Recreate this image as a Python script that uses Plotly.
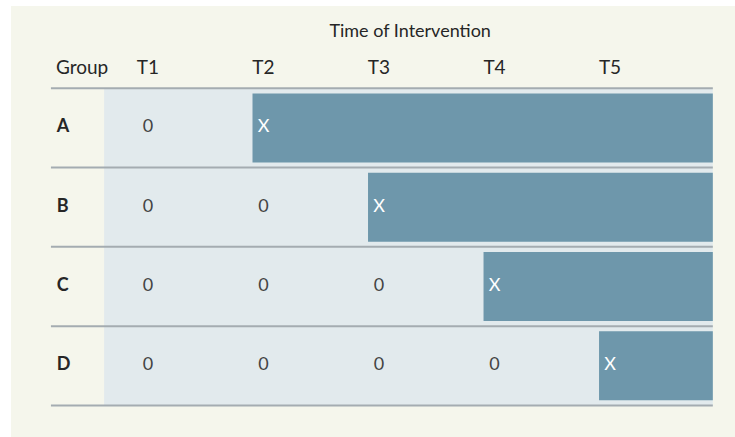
import plotly.graph_objects as go

groups = ["A", "B", "C", "D"]
times = ["T1", "T2", "T3", "T4", "T5"]
# index (1-based) of the time point at which each group receives the intervention
intervention_at = [2, 3, 4, 5]
title_text = "Time of Intervention"
group_header = "Group"

FONT = "Lato"
CREAM = "#f5f6ec"
LIGHT = "#e2eaed"
BAR = "#6e97ab"
LINE = "#a4acb1"
TXT = "#262626"

n_t = len(times)
x_left, x_right = 0.62, n_t + 0.89
bar_pad = 0.095

fig = go.Figure()

# intervention bars (from intervention time through the end of follow-up)
fig.add_trace(go.Bar(
    orientation="h",
    y=list(range(len(groups))),
    base=[t - bar_pad for t in intervention_at],
    x=[x_right - (t - bar_pad) for t in intervention_at],
    width=0.87,
    marker=dict(color=BAR, line=dict(width=0)),
    hoverinfo="skip",
    showlegend=False,
))

# cell texts: "0" before intervention, "X" at intervention
zx, zy, xx, xy = [], [], [], []
for gi, t0 in enumerate(intervention_at):
    for ti in range(1, t0):
        zx.append(ti); zy.append(gi)
    xx.append(t0); xy.append(gi)

fig.add_trace(go.Scatter(x=zx, y=zy, mode="text", text=["0"] * len(zx),
                         textfont=dict(family=FONT, size=18, color="#444444"),
                         hoverinfo="skip", showlegend=False))
fig.add_trace(go.Scatter(x=xx, y=xy, mode="text", text=["X"] * len(xx),
                         textfont=dict(family=FONT, size=18, color="white"),
                         hoverinfo="skip", showlegend=False))

# row labels
fig.add_trace(go.Scatter(x=[0.21] * len(groups), y=list(range(len(groups))), mode="text",
                         text=["<b>%s</b>" % g for g in groups], textposition="middle right",
                         textfont=dict(family=FONT, size=18, color=TXT),
                         hoverinfo="skip", showlegend=False))

# column headers
fig.add_trace(go.Scatter(x=list(range(1, n_t + 1)), y=[-0.74] * n_t, mode="text",
                         text=times, textfont=dict(family=FONT, size=19, color=TXT),
                         hoverinfo="skip", showlegend=False))
fig.add_trace(go.Scatter(x=[0.43], y=[-0.74], mode="text", text=[group_header],
                         textfont=dict(family=FONT, size=19, color=TXT),
                         hoverinfo="skip", showlegend=False))
fig.add_trace(go.Scatter(x=[3.27], y=[-1.21], mode="text", text=[title_text],
                         textfont=dict(family=FONT, size=18, color=TXT),
                         hoverinfo="skip", showlegend=False))

shapes = [
    # white frame strips at top and left of the cream panel
    dict(type="rect", xref="paper", yref="paper", x0=0, x1=11 / 735, y0=0, y1=1,
         fillcolor="white", line=dict(width=0), layer="below"),
    dict(type="rect", xref="paper", yref="paper", x0=0, x1=1, y0=1 - 6 / 437, y1=1,
         fillcolor="white", line=dict(width=0), layer="below"),
    dict(type="rect", xref="x", yref="y", x0=x_left, x1=x_right, y0=-0.5, y1=len(groups) - 0.5,
         fillcolor=LIGHT, line=dict(width=0), layer="below"),
]
for k in range(len(groups) + 1):
    shapes.append(dict(type="line", xref="x", yref="y", x0=0.16, x1=x_right,
                       y0=k - 0.5, y1=k - 0.5, line=dict(color=LINE, width=2), layer="above"))

fig.update_layout(
    width=735, height=437,
    margin=dict(l=0, r=0, t=0, b=0),
    paper_bgcolor=CREAM, plot_bgcolor="rgba(0,0,0,0)",
    shapes=shapes,
    barmode="overlay",
    hovermode=False,
    xaxis=dict(range=[-0.281, 6.082], visible=False, fixedrange=True),
    yaxis=dict(range=[3.899, -1.615], visible=False, fixedrange=True),
)

fig.write_html("out.html",
               config={"displayModeBar": False, "staticPlot": True},
               post_script="document.body.style.margin='0';document.body.style.overflow='hidden';")
